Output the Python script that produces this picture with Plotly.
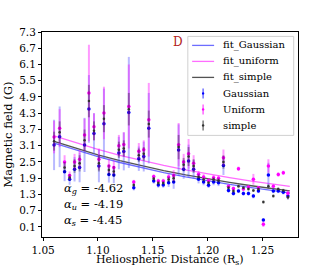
import plotly.graph_objects as go

# ---- data ----
dist = [1.0600, 1.0651, 1.0696, 1.0742, 1.0787, 1.0833, 1.0878, 1.0918, 1.0964, 1.1009,
        1.1055, 1.1100, 1.1145, 1.1191, 1.1236, 1.1282, 1.1327, 1.1373, 1.1418, 1.1464,
        1.1509, 1.1551, 1.1596, 1.1645, 1.1691, 1.1736, 1.1782, 1.1827, 1.1873, 1.1918,
        1.1964, 1.2009, 1.2055, 1.2100, 1.2145, 1.2191, 1.2236, 1.2282, 1.2327, 1.2373,
        1.2418, 1.2464, 1.2509, 1.2555, 1.2600, 1.2645, 1.2691, 1.2733]

gauss = [3.13, 3.43, 2.14, 1.86, 2.23, 2.30, 3.13, 4.46, 3.55, 2.35,
         3.91, 2.04, 2.02, 2.83, 2.89, 4.33, 1.55, 2.62, 2.70, 3.75,
         1.80, 1.65, 1.65, 1.73, 1.76, 2.94, 2.23, 2.54, 2.23, 1.86,
         1.76, 1.64, 1.76, 1.73, 2.37, 1.45, 1.34, 1.43, 1.34, 1.34,
         1.24, 1.43, 0.36, 2.02, 1.43, 1.43, 1.38, 1.24]
gauss_err = [0.93, 1.12, 0.35, 0.20, 0.45, 0.55, 1.00, 1.25, 0.75, 0.60,
             1.30, 0.30, 0.30, 0.60, 0.70, 2.05, 0.10, 0.45, 0.55, 1.30,
             0.10, 0.10, 0.10, 0.15, 0.25, 0.95, 0.35, 0.60, 0.35, 0.15,
             0.12, 0.10, 0.12, 0.12, 0.35, 0.08, 0.08, 0.08, 0.08, 0.08,
             0.08, 0.08, 0.06, 0.45, 0.08, 0.08, 0.08, 0.12]

unif = [3.42, 3.75, 2.50, 2.00, 2.50, 2.60, 3.50, 5.05, 3.80, 2.60,
        4.31, 2.35, 2.30, 3.10, 3.15, 4.55, 1.76, 2.90, 2.95, 4.06,
        1.96, 1.80, 1.80, 1.95, 2.00, 3.14, 2.50, 2.80, 2.45, 2.05,
        1.95, 1.82, 1.92, 1.90, 2.66, 1.60, 1.52, 2.25, 1.50, 1.58,
        1.86, 1.55, 0.20, 2.35, 1.60, 2.04, 2.10, 1.35]
unif_err = [0.60, 0.70, 0.25, 0.15, 0.30, 0.35, 0.60, 1.78, 0.50, 0.40,
            0.97, 0.25, 0.25, 0.40, 0.45, 1.55, 0.08, 0.30, 0.35, 1.36,
            0.08, 0.08, 0.08, 0.12, 0.20, 0.80, 0.30, 0.55, 0.30, 0.12,
            0.10, 0.08, 0.10, 0.10, 0.30, 0.07, 0.07, 0.08, 0.07, 0.07,
            0.20, 0.07, 0.10, 0.25, 0.07, 0.08, 0.08, 0.10]

simple = [3.27, 3.60, 2.30, 1.93, 2.35, 2.45, 3.30, 4.75, 3.65, 2.45,
          4.10, 2.20, 2.15, 2.95, 3.00, 4.45, 1.65, 2.75, 2.80, 3.90,
          1.88, 1.72, 1.72, 1.85, 1.90, 3.05, 2.40, 2.70, 2.35, 1.95,
          1.85, 1.73, 1.85, 1.82, 2.50, 1.55, 1.43, 1.60, 1.55, 1.50,
          1.45, 1.50, 1.02, 1.60, 1.24, 1.50, 1.45, 1.20]
simple_err = [0.35, 0.40, 0.20, 0.12, 0.25, 0.30, 0.40, 0.60, 0.35, 0.30,
              0.50, 0.20, 0.20, 0.30, 0.30, 0.60, 0.06, 0.25, 0.25, 0.50,
              0.07, 0.07, 0.07, 0.10, 0.15, 0.45, 0.25, 0.35, 0.25, 0.10,
              0.08, 0.07, 0.08, 0.08, 0.25, 0.06, 0.06, 0.07, 0.06, 0.06,
              0.06, 0.06, 0.06, 0.08, 0.06, 0.06, 0.06, 0.08]

fit_x = [1.06, 1.08, 1.10, 1.12, 1.14, 1.16, 1.18, 1.20, 1.22, 1.24, 1.26, 1.275]
fit_gauss = [3.200, 2.935, 2.697, 2.481, 2.286, 2.110, 1.950, 1.804, 1.671, 1.550, 1.440, 1.363]
fit_unif = [3.460, 3.199, 2.963, 2.747, 2.551, 2.372, 2.208, 2.057, 1.920, 1.793, 1.677, 1.596]
fit_simple = [3.260, 3.000, 2.765, 2.552, 2.358, 2.183, 2.023, 1.877, 1.744, 1.622, 1.511, 1.433]

alphas = {"g": "-4.62", "u": "-4.19", "s": "-4.45"}

x_ticks = [1.05, 1.10, 1.15, 1.20, 1.25]
y_ticks = [0.1, 0.7, 1.3, 1.9, 2.5, 3.1, 3.7, 4.3, 4.9, 5.5, 6.1, 6.7, 7.3]

FONT = "DejaVu Serif"

fig = go.Figure()

fit_styles = [
    ("fit_Gaussian", fit_gauss, "rgba(60,60,255,0.75)"),
    ("fit_uniform", fit_unif, "rgba(255,60,255,0.75)"),
    ("fit_simple", fit_simple, "rgba(40,40,40,0.8)"),
]
for name, vals, col in fit_styles:
    fig.add_trace(go.Scatter(x=fit_x, y=vals, mode="lines", name=name, showlegend=False,
                             line=dict(color=col, width=1.3)))

series = [
    ("Gaussian", gauss, gauss_err, "#0000ff", "rgba(80,80,255,0.4)", 3.5, "rgba(80,80,255,0.8)"),
    ("Uniform", unif, unif_err, "#ff00ff", "rgba(255,0,255,0.4)", 3.5, "rgba(255,0,255,0.6)"),
    ("simple", simple, simple_err, "#333333", "rgba(0,0,0,0.3)", 2.5, "rgba(0,0,0,0.5)"),
]
for name, vals, errs, col, ecol, msize, lcol in series:
    fig.add_trace(go.Scatter(
        x=dist, y=vals, mode="markers", name=name, showlegend=False,
        marker=dict(color=col, size=msize),
        error_y=dict(type="data", array=errs, visible=True, color=ecol,
                     thickness=2, width=0)))

# ---- hand-drawn legend (matplotlib style), paper coordinates ----
PX0, PW, PY0, PH = 41.7, 256.3, 237.3, 205.0
def px(x):
    return (x - PX0) / PW
def py(y):
    return (PY0 - y) / PH

fig.add_shape(type="rect", xref="paper", yref="paper", layer="above",
              x0=px(187.7), x1=px(293.7), y0=py(135.7), y1=py(36.7),
              fillcolor="rgba(255,255,255,0.9)", line=dict(color="#d0d0d0", width=1))
row_y = [45.7 + 16 * i for i in range(6)]
for i, (name, vals, col) in enumerate(fit_styles):
    fig.add_shape(type="line", xref="paper", yref="paper", layer="above",
                  x0=px(192), x1=px(214), y0=py(row_y[i]), y1=py(row_y[i]),
                  line=dict(color=col, width=1.3))
    fig.add_annotation(text=name, xref="paper", yref="paper", x=px(221), y=py(row_y[i]),
                       xanchor="left", yanchor="middle", showarrow=False,
                       font=dict(family=FONT, size=10, color="black"))
for j, (name, vals, errs, col, ecol, msize, lcol) in enumerate(series):
    yy = row_y[3 + j]
    fig.add_shape(type="line", xref="paper", yref="paper", layer="above",
                  x0=px(203), x1=px(203), y0=py(yy - 5), y1=py(yy + 5),
                  line=dict(color=lcol, width=1.5))
    fig.add_shape(type="circle", xref="paper", yref="paper", layer="above",
                  x0=px(201.8), x1=px(204.2), y0=py(yy + 1.2), y1=py(yy - 1.2),
                  fillcolor=col, line=dict(width=0))
    fig.add_annotation(text=name, xref="paper", yref="paper", x=px(221), y=py(yy),
                       xanchor="left", yanchor="middle", showarrow=False,
                       font=dict(family=FONT, size=10, color="black"))

fig.add_annotation(text="D", xref="paper", yref="paper", x=px(178), y=py(42),
                   showarrow=False, font=dict(family=FONT, size=12, color="#b22222"),
                   xanchor="center", yanchor="middle")
for i, (k, v) in enumerate(alphas.items()):
    fig.add_annotation(text=f"<i>α</i><sub><i>{k}</i></sub> = {v}", xref="paper", yref="paper",
                       x=px(62), y=py(189 + 16 * i), xanchor="left", yanchor="middle",
                       showarrow=False, font=dict(family=FONT, size=11.5, color="black"))

fig.add_annotation(text="Heliospheric Distance (R<sub>s</sub>)", xref="paper", yref="paper",
                   x=0.5, y=py(260.5), xanchor="center", yanchor="middle", showarrow=False,
                   font=dict(family=FONT, size=11, color="black"))

axis_common = dict(showline=True, linecolor="black", linewidth=1, mirror=True,
                   ticks="outside", ticklen=3, tickcolor="black", showgrid=False,
                   zeroline=False, automargin=False,
                   tickfont=dict(family=FONT, size=10.5, color="black"))

fig.update_layout(
    width=332, height=266,
    margin=dict(l=42, r=34, t=32, b=29, autoexpand=False),
    paper_bgcolor="white", plot_bgcolor="white",
    font=dict(family=FONT, size=11, color="black"),
    xaxis=dict(range=[1.049, 1.2825], tickvals=x_ticks,
               ticktext=[f"{t:.2f}" for t in x_ticks],
               **axis_common),
    yaxis=dict(range=[-0.27, 7.3], tickvals=y_ticks,
               ticktext=[f"{t:.1f}" for t in y_ticks],
               title=dict(text="Magnetic field (G)", standoff=4,
                          font=dict(family=FONT, size=11.5)), **axis_common),
    showlegend=False,
)

fig.write_html("out.html", config={"displayModeBar": False},
               post_script="document.body.style.margin='0px';document.body.style.padding='0px';")
